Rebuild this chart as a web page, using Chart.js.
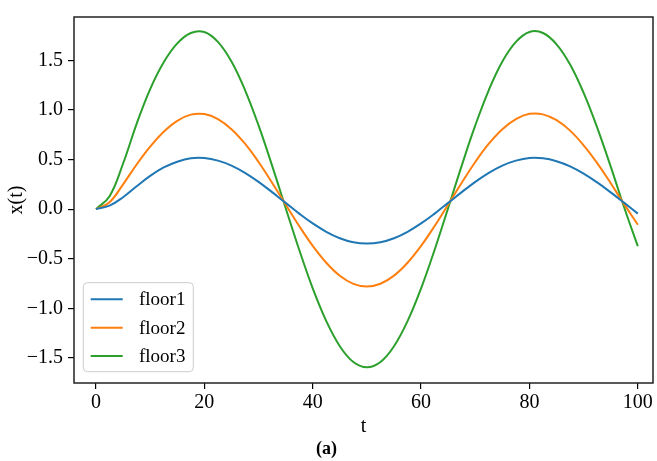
<!DOCTYPE html>
<html><head><meta charset="utf-8">
<script src="https://cdn.jsdelivr.net/npm/chart.js@4.4.0/dist/chart.umd.min.js"></script>
<style>html,body{margin:0;padding:0;background:#fff;}canvas{display:block;}</style>
</head><body>
<canvas id="c" width="657" height="461"></canvas>
<script>
// ---- data ----
const tValues = [0,2.5,5,7.5,10,12.5,15,17.5,20,22.5,25,27.5,30,32.5,35,37.5,40,42.5,45,47.5,50,52.5,55,57.5,60,62.5,65,67.5,70,72.5,75,77.5,80,82.5,85,87.5,90,92.5,95,97.5,100];
const floor1 = [0,0.035,0.12,0.23,0.335,0.42,0.478,0.512,0.514,0.489,0.439,0.366,0.275,0.171,0.063,-0.045,-0.144,-0.228,-0.293,-0.334,-0.347,-0.333,-0.293,-0.228,-0.144,-0.045,0.063,0.171,0.275,0.366,0.439,0.489,0.515,0.512,0.483,0.431,0.358,0.269,0.169,0.063,-0.045];
const floor2 = [0,0.07,0.25,0.45,0.63,0.78,0.89,0.952,0.958,0.908,0.806,0.659,0.475,0.266,0.047,-0.170,-0.370,-0.540,-0.671,-0.753,-0.780,-0.752,-0.670,-0.540,-0.370,-0.170,0.047,0.266,0.475,0.659,0.806,0.908,0.960,0.955,0.896,0.791,0.643,0.464,0.261,0.048,-0.157];
const floor3 = [0,0.13,0.46,0.86,1.21,1.48,1.67,1.775,1.785,1.685,1.487,1.200,0.844,0.439,0.012,-0.409,-0.798,-1.128,-1.381,-1.541,-1.594,-1.540,-1.381,-1.128,-0.798,-0.409,0.012,0.439,0.844,1.200,1.487,1.685,1.785,1.775,1.661,1.457,1.171,0.822,0.428,0.014,-0.374];
const seriesNames = ['floor1','floor2','floor3'];
const seriesColors = ['#1f77b4','#ff7f0e','#2ca02c'];
const xTicks = [0,20,40,60,80,100];
const yTicks = [-1.5,-1.0,-0.5,0.0,0.5,1.0,1.5];
const xLabel = 't';
const yLabel = 'x(t)';
const panelLabel = '(a)';

const FONT = 'Liberation Serif';
const seriesValues = [floor1, floor2, floor3];

const datasets = seriesNames.map((name, i) => ({
  label: name,
  data: tValues.map((t, j) => ({x: t, y: seriesValues[i][j]})),
  borderColor: seriesColors[i],
  backgroundColor: seriesColors[i],
  borderWidth: 2,
  pointRadius: 0,
  fill: false,
  tension: 0.4
}));

const framePlugin = {
  id: 'frameAndLegend',
  afterDatasetsDraw(chart) {
    const ctx = chart.ctx;
    const a = chart.chartArea;
    ctx.save();
    ctx.strokeStyle = '#222';
    ctx.lineWidth = 1.5;
    ctx.strokeRect(a.left, a.top, a.right - a.left, a.bottom - a.top);
    const bx = a.left + 9.3, bw = 110, bh = 89;
    const by = a.bottom - 11.3 - bh;
    ctx.beginPath();
    if (ctx.roundRect) ctx.roundRect(bx, by, bw, bh, 4); else ctx.rect(bx, by, bw, bh);
    ctx.fillStyle = 'rgba(255,255,255,0.8)';
    ctx.fill();
    ctx.strokeStyle = '#cccccc';
    ctx.lineWidth = 1;
    ctx.stroke();
    const rows = [16.6, 45, 73.3];
    ctx.font = '19px "' + FONT + '"';
    ctx.textBaseline = 'middle';
    ctx.textAlign = 'left';
    chart.data.datasets.forEach((ds, i) => {
      const y = by + rows[i];
      ctx.beginPath();
      ctx.strokeStyle = ds.borderColor;
      ctx.lineWidth = 2;
      ctx.moveTo(bx + 7.4, y);
      ctx.lineTo(bx + 39.4, y);
      ctx.stroke();
      ctx.fillStyle = '#000';
      ctx.fillText(ds.label, bx + 55.7, y + 1);
    });
    ctx.restore();
  }
};

new Chart(document.getElementById('c'), {
  type: 'line',
  data: { datasets },
  plugins: [framePlugin],
  options: {
    responsive: false,
    animation: false,
    devicePixelRatio: 1,
    layout: { padding: { top: 8, right: 4, left: 0, bottom: 0 } },
    plugins: {
      legend: { display: false },
      tooltip: { enabled: false },
      title: {
        display: true, text: panelLabel, position: 'bottom', color: '#000',
        font: { family: FONT, size: 18, weight: 'bold' },
        padding: { top: 0, bottom: 1 }
      }
    },
    scales: {
      x: {
        type: 'linear', min: -4.06, max: 102.8,
        afterBuildTicks: s => { s.ticks = xTicks.map(v => ({ value: v })); },
        afterFit: s => { s.height = 55.4; },
        border: { display: false },
        grid: { display: true, drawOnChartArea: false, drawTicks: true, tickLength: 6, color: '#000', lineWidth: 1.2 },
        ticks: { color: '#000', font: { family: FONT, size: 20 }, padding: 2, maxRotation: 0,
                 callback: v => String(v) },
        title: { display: true, text: xLabel, color: '#000', font: { family: FONT, size: 20 }, padding: { top: 0, bottom: 0 } }
      },
      y: {
        type: 'linear', min: -1.752, max: 1.936,
        afterBuildTicks: s => { s.ticks = yTicks.map(v => ({ value: v })); },
        afterFit: s => { s.width = 74; },
        border: { display: false },
        grid: { display: true, drawOnChartArea: false, drawTicks: true, tickLength: 6, color: '#000', lineWidth: 1.2 },
        ticks: { color: '#000', font: { family: FONT, size: 20 }, padding: 5,
                 callback: v => v.toFixed(1).replace('-', '\u2212') },
        title: { display: true, text: yLabel, color: '#000', font: { family: FONT, size: 20 }, padding: { top: 5, bottom: 0 } }
      }
    }
  }
});
</script>
</body></html>
